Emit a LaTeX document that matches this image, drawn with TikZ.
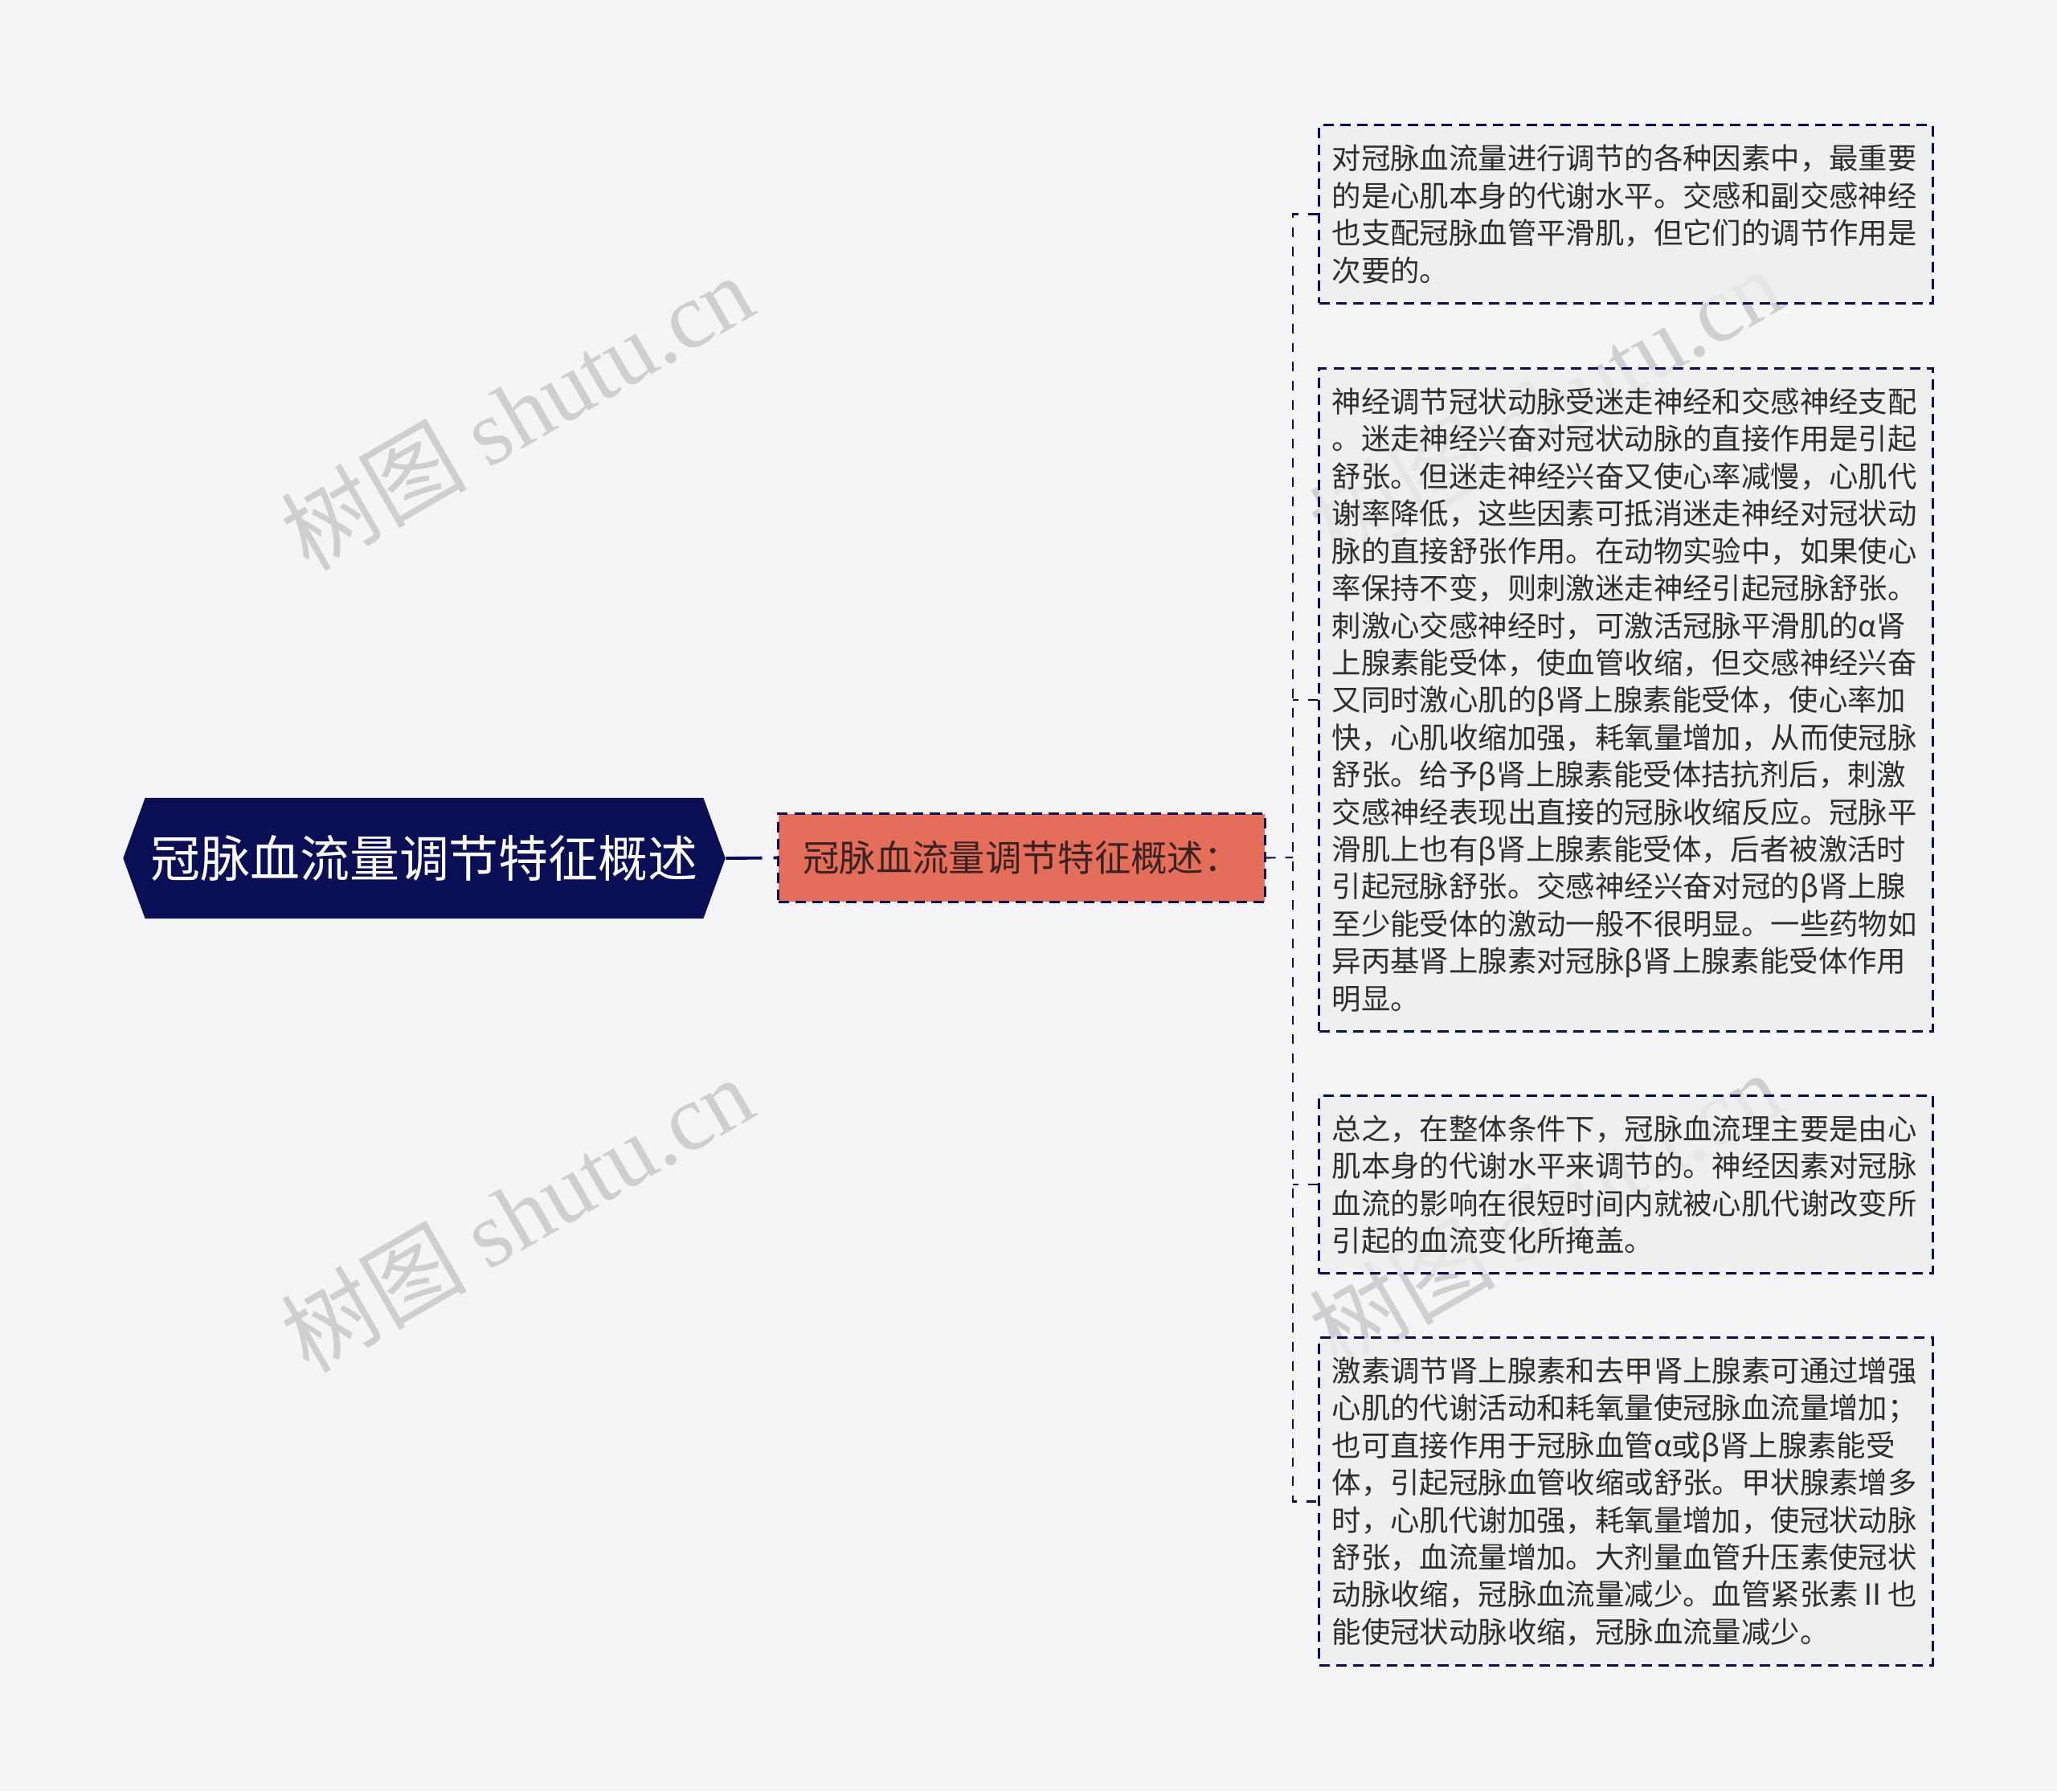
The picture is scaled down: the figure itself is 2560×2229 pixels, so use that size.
\documentclass[tikz,border=0pt]{standalone}
\usepackage{fontspec}
\usepackage{tikz}
\usetikzlibrary{shapes.symbols}
\newfontfamily\cjk{Noto Sans CJK SC}
\newfontfamily\wmserif{Liberation Serif}
\definecolor{bgcol}{HTML}{F5F5F7}
\definecolor{navy}{HTML}{0A0F55}
\definecolor{salmon}{HTML}{E46E59}
\definecolor{boxfill}{HTML}{EEEEF0}
\definecolor{boxtext}{HTML}{2E2E2E}
\definecolor{midtext}{HTML}{3B2222}
\definecolor{wmgray}{HTML}{CFCFD1}
\tikzset{
	rootnode/.style={signal, signal to=west and east, signal pointer angle=140, fill=navy, text=white,
		font=\cjk\fontsize{17.6}{20}\selectfont, minimum height=1.5cm, inner xsep=0.07cm},
	midnode/.style={rectangle, fill=salmon, draw=navy, line width=0.85pt, dash pattern=on 3.7pt off 2.3pt,
		text=midtext, font=\cjk\fontsize{12.9}{15}\selectfont, minimum width=6.05cm, minimum height=1.09cm},
	textbox/.style={rectangle, fill=boxfill, fill opacity=0.75, text opacity=1, draw=navy, draw opacity=1,
		line width=0.85pt, dash pattern=on 3.7pt off 2.3pt, text=boxtext, text width=7.31cm, align=left,
		inner xsep=0.16cm, inner ysep=0.24cm, font=\cjk\fontsize{10.35}{13.2}\selectfont},
	rootlink/.style={draw=navy, line width=1.1pt, dash pattern=on 12.8pt off 4pt},
	buslink/.style={draw=navy, line width=0.6pt, dash pattern=on 3.4pt off 3.4pt},
	wm/.style={text=wmgray, font=\cjk\fontsize{33}{36}\selectfont, rotate=30}
}

\begin{document}
\begin{tikzpicture}[x=0.01cm, y=-0.01cm]
		%%%%% START %%%%%
		\fill[bgcol] (0, 0) rectangle (2560, 2229);
		\useasboundingbox (0, 0) rectangle (2560, 2229);
		
		% watermarks
		\node[wm] (wm1) at (643, 512) {树图 {\wmserif shutu.cn}};
		\node[wm] (wm2) at (643, 1510) {树图 {\wmserif shutu.cn}};
		\node[wm] (wm3) at (1923, 504) {树图 {\wmserif shutu.cn}};
		\node[wm] (wm4) at (1923, 1504) {树图 {\wmserif shutu.cn}};
		
		\node[rootnode] (root) at (528, 1068) {冠脉血流量调节特征概述};
		\node[midnode] (mid) at (1271.5, 1067.5) {冠脉血流量调节特征概述：};
		
		\node[textbox] (b1) at (2023.5, 266.5) {对冠脉血流量进行调节的各种因素中，最重要\\的是心肌本身的代谢水平。交感和副交感神经\\也支配冠脉血管平滑肌，但它们的调节作用是\\次要的。};
		\node[textbox] (b2) at (2023.5, 871) {神经调节冠状动脉受迷走神经和交感神经支配\\。迷走神经兴奋对冠状动脉的直接作用是引起\\舒张。但迷走神经兴奋又使心率减慢，心肌代\\谢率降低，这些因素可抵消迷走神经对冠状动\\脉的直接舒张作用。在动物实验中，如果使心\\率保持不变，则刺激迷走神经引起冠脉舒张。\\刺激心交感神经时，可激活冠脉平滑肌的α肾\\上腺素能受体，使血管收缩，但交感神经兴奋\\又同时激心肌的β肾上腺素能受体，使心率加\\快，心肌收缩加强，耗氧量增加，从而使冠脉\\舒张。给予β肾上腺素能受体拮抗剂后，刺激\\交感神经表现出直接的冠脉收缩反应。冠脉平\\滑肌上也有β肾上腺素能受体，后者被激活时\\引起冠脉舒张。交感神经兴奋对冠的β肾上腺\\至少能受体的激动一般不很明显。一些药物如\\异丙基肾上腺素对冠脉β肾上腺素能受体作用\\明显。};
		\node[textbox] (b3) at (2023.5, 1474) {总之，在整体条件下，冠脉血流理主要是由心\\肌本身的代谢水平来调节的。神经因素对冠脉\\血流的影响在很短时间内就被心肌代谢改变所\\引起的血流变化所掩盖。};
		\node[textbox] (b4) at (2023.5, 1868.5) {激素调节肾上腺素和去甲肾上腺素可通过增强\\心肌的代谢活动和耗氧量使冠脉血流量增加；\\也可直接作用于冠脉血管α或β肾上腺素能受\\体，引起冠脉血管收缩或舒张。甲状腺素增多\\时，心肌代谢加强，耗氧量增加，使冠状动脉\\舒张，血流量增加。大剂量血管升压素使冠状\\动脉收缩，冠脉血流量减少。血管紧张素Ⅱ也\\能使冠状动脉收缩，冠脉血流量减少。};
		
		% connectors
		\coordinate (bus) at (1609, 1067);
		\draw[rootlink] (root.east) -- (mid.west);
		\draw[buslink] (mid.east) -- (bus);
		\draw[buslink] (b1.west) -| (bus) |- (b4.west);
		\draw[buslink] (b2.west) -- (b2.west -| bus);
		\draw[buslink] (b3.west) -- (b3.west -| bus);
		%%%%% END %%%%%
\end{tikzpicture}
\end{document}
